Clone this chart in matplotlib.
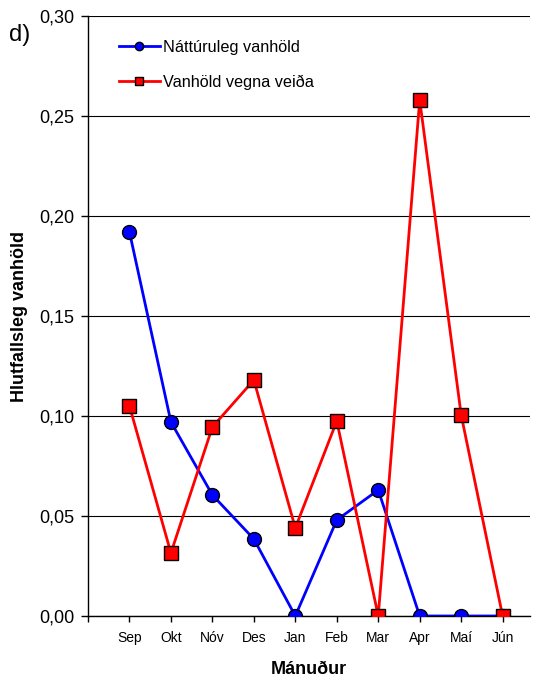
import matplotlib.pyplot as plt
import matplotlib.ticker as mticker

plt.rcParams['font.family'] = ['Liberation Sans', 'DejaVu Sans']

months = ['Sep', 'Okt', 'Nóv', 'Des', 'Jan', 'Feb', 'Mar', 'Apr', 'Maí', 'Jún']
natural = [0.192, 0.097, 0.0605, 0.0385, 0.0, 0.048, 0.063, 0.0, 0.0, 0.0]
fishing = [0.105, 0.0315, 0.0945, 0.118, 0.044, 0.0975, 0.0, 0.258, 0.1005, 0.0]

fig = plt.figure(figsize=(5.44, 6.84), dpi=100)
ax = fig.add_axes([88 / 544, 68 / 684, 442 / 544, 600 / 684])

xs = list(range(1, len(months) + 1))
ax.plot(xs, natural, '-o', color='blue', lw=2, ms=10, mfc='blue', mec='black',
        mew=1, label='Náttúruleg vanhöld', zorder=3)
ax.plot(xs, fishing, '-s', color='red', lw=2, ms=10, mfc='red', mec='black',
        mew=1, label='Vanhöld vegna veiða', zorder=3)

ax.set_ylim(0, 0.30)
ax.set_xlim(0, 10.66)
ax.set_yticks([0, 0.05, 0.10, 0.15, 0.20, 0.25, 0.30])
ax.yaxis.set_major_formatter(mticker.FuncFormatter(lambda v, p: f'{v:.2f}'.replace('.', ',')))
ax.set_xticks(range(0, 11))
ax.set_xticklabels([''] + months, fontsize=10)
ax.tick_params(axis='y', labelsize=13, direction='out', length=5, width=1, pad=5)
ax.tick_params(axis='x', direction='out', length=4, width=1, pad=7)
ax.grid(axis='y', color='black', lw=0.8)
ax.set_axisbelow(True)
for s in ['top', 'right']:
    ax.spines[s].set_visible(False)
ax.spines['left'].set_linewidth(1)
ax.spines['bottom'].set_linewidth(1)

ax.set_ylabel('Hlutfallsleg vanhöld', fontsize=13, fontweight='bold', labelpad=8)
ax.set_xlabel('Mánuður', fontsize=13, fontweight='bold', labelpad=11)

ax.legend(loc='upper left', bbox_to_anchor=(0.07, 0.96), frameon=False,
          fontsize=11.7, handlelength=2.5, labelspacing=1.2, handletextpad=0.2,
          borderpad=0, borderaxespad=0, markerscale=0.6)

fig.text(20 / 544, 1 - 35 / 684, 'd)', fontsize=17, va='center', ha='center')

fig.savefig('out.png', dpi=100)
